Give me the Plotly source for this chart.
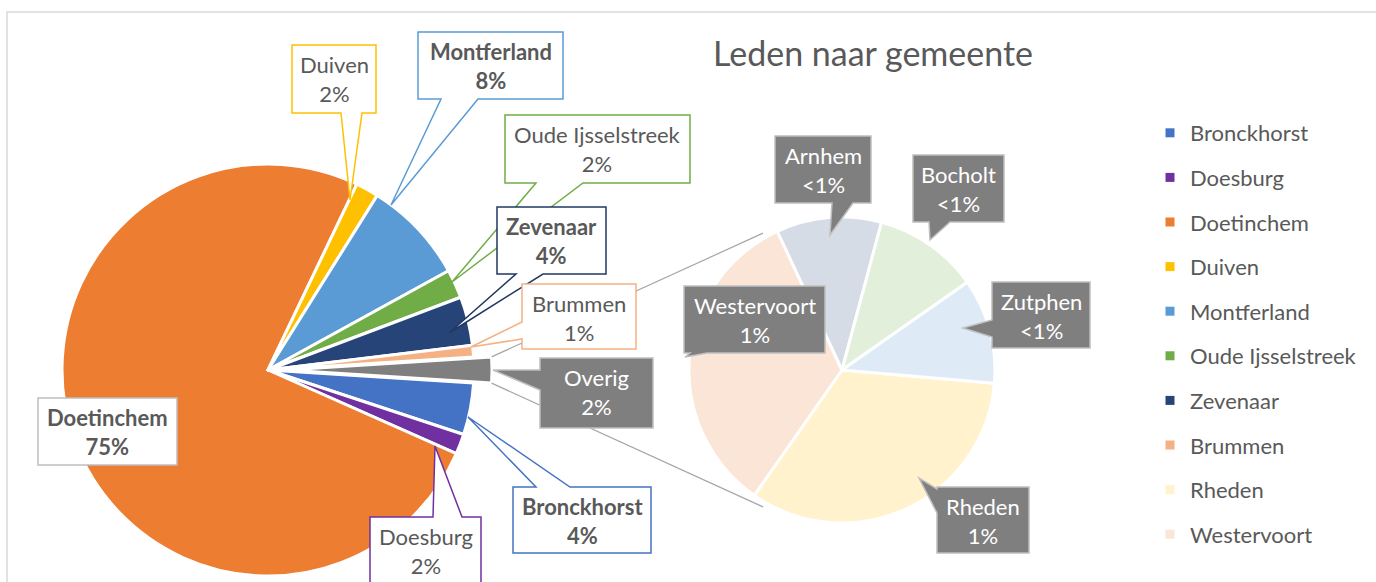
import math
import plotly.graph_objects as go

W, H = 1376, 582

# ---------------- data ----------------
main_labels = ["Bronckhorst", "Doesburg", "Doetinchem", "Duiven", "Montferland",
               "Oude Ijsselstreek", "Zevenaar", "Brummen", "Overig"]
main_values = [18, 7, 335, 8, 36, 10, 17, 4, 9]
main_colors = ["#4472C4", "#7030A0", "#ED7D31", "#FFC000", "#5B9BD5",
               "#70AD47", "#264478", "#F4B183", "#7F7F7F"]

sub_labels = ["Rheden", "Westervoort", "Arnhem", "Bocholt", "Zutphen"]
sub_values = [3, 3, 1, 1, 1]
sub_colors = ["#FFF2CC", "#FBE5D6", "#D6DCE5", "#E2EFDA", "#DEEBF7"]

title_text = "Leden naar gemeente"

total = sum(main_values)


def pct_text(v):
    p = v / total * 100
    return "<1%" if p < 0.5 else f"{round(p)}%"


# ---------------- layout geometry (pixels) ----------------
FONT = "Lato"
TXT = "#595959"
LBL_SIZE = 22
MAIN_C, MAIN_R, PULL = (268, 370), 206, 18
SUB_C, SUB_R = (842, 370), 153
SUB_ROT = 95


def dom(cx, cy, r):
    return dict(x=[(cx - r) / W, (cx + r) / W], y=[(H - cy - r) / H, (H - cy + r) / H])


TRANSP = "rgba(0,0,0,0)"
n = len(main_labels)
overig_i = n - 1
main_rot = 90 + 180 * main_values[overig_i] / total

fig = go.Figure()

# main pie (Overig slot left empty; drawn pulled out below)
fig.add_trace(go.Pie(
    labels=main_labels, values=main_values, sort=False, direction="clockwise",
    rotation=main_rot, domain=dom(*MAIN_C, MAIN_R), textinfo="none",
    hoverinfo="label+percent", showlegend=False,
    marker=dict(colors=[c if i != overig_i else TRANSP for i, c in enumerate(main_colors)],
                line=dict(color="white", width=[3 if i != overig_i else 0 for i in range(n)])),
))
# exploded "Overig" slice
fig.add_trace(go.Pie(
    labels=main_labels, values=main_values, sort=False, direction="clockwise",
    rotation=main_rot, domain=dom(MAIN_C[0] + PULL, MAIN_C[1], MAIN_R), textinfo="none",
    hoverinfo="skip", showlegend=False,
    marker=dict(colors=[c if i == overig_i else TRANSP for i, c in enumerate(main_colors)],
                line=dict(color="white", width=[3 if i == overig_i else 0 for i in range(n)])),
))
# secondary pie
fig.add_trace(go.Pie(
    labels=sub_labels, values=sub_values, sort=False, direction="clockwise",
    rotation=SUB_ROT, domain=dom(*SUB_C, SUB_R), textinfo="none",
    hoverinfo="label", showlegend=False,
    marker=dict(colors=sub_colors, line=dict(color="white", width=3)),
))

# legend entries (first 10 visible as in the original)
color_of = dict(zip(main_labels + sub_labels, main_colors + sub_colors))
legend_labels = [l for l in main_labels if l != "Overig"] + sub_labels
for lab in legend_labels[:10]:
    fig.add_trace(go.Scatter(x=[None], y=[None], mode="markers", name=lab,
                             legendgroup=lab,
                             marker=dict(symbol="square", size=9, color=color_of[lab])))

shapes = []
# chart border
shapes.append(dict(type="rect", xref="x", yref="y", x0=7, y0=12, x1=1390, y1=600,
                   line=dict(color="#D9D9D9", width=1.5), layer="below"))

# connector lines from exploded slice to secondary pie
h = math.pi * main_values[overig_i] / total
for s in (1, -1):
    x0 = MAIN_C[0] + PULL + MAIN_R * math.cos(h)
    y0 = MAIN_C[1] - s * MAIN_R * math.sin(h)
    a = math.radians(120)
    x1 = SUB_C[0] + (SUB_R + 5) * math.cos(a)
    y1 = SUB_C[1] - s * (SUB_R + 5) * math.sin(a)
    shapes.append(dict(type="line", xref="x", yref="y", x0=x0, y0=y0, x1=x1, y1=y1,
                       line=dict(color="#A6A6A6", width=1.2), layer="above"))

# callout layout: box (x0,y0,x1,y1), wedge side, wedge base, tip, style
callouts = {
    "Duiven": dict(box=(292, 45, 376, 113), side="bottom", base=(341, 362), tip=(350, 200)),
    "Montferland": dict(box=(418, 32, 563, 99), side="bottom", base=(441, 478), tip=(391, 205), bold=True),
    "Oude Ijsselstreek": dict(box=(505, 115, 690, 183), side="bottom", base=(536, 583), tip=(452, 282)),
    "Zevenaar": dict(box=(497, 207, 606, 274), side="bottom", base=(516, 543), tip=(449, 333),
                     border="#203864", bold=True),
    "Brummen": dict(box=(522, 284, 636, 349), side="left", base=(322, 339), tip=(471, 347)),
    "Overig": dict(box=(540, 358, 653, 428), side="left", base=(370, 390), tip=(493, 370), gray=True),
    "Bronckhorst": dict(box=(513, 487, 651, 553), side="top", base=(536, 570), tip=(468, 417), bold=True),
    "Doesburg": dict(box=(370, 517, 481, 610), side="top", base=(433, 462), tip=(435, 446)),
    "Doetinchem": dict(box=(38, 398, 177, 465), side=None, border="#BFBFBF", bold=True),
    "Arnhem": dict(box=(775, 136, 871, 203), side="bottom", base=(832, 853), tip=(830, 235), gray=True),
    "Bocholt": dict(box=(913, 155, 1004, 222), side="bottom", base=(929, 950), tip=(930, 240), gray=True),
    "Zutphen": dict(box=(992, 282, 1090, 348), side="left", base=(320, 337), tip=(963, 328), gray=True),
    "Westervoort": dict(box=(684, 286, 825, 353), side="bottom", base=(690, 707), tip=(685, 357), gray=True),
    "Rheden": dict(box=(937, 487, 1029, 553), side="left", base=(489, 513), tip=(919, 478), gray=True),
}


def callout_path(box, side, base, tip):
    x0, y0, x1, y1 = box
    pts = [(x0, y0)]
    if side == "top":
        pts += [(base[0], y0), tip, (base[1], y0)]
    pts.append((x1, y0))
    if side == "right":
        pts += [(x1, base[0]), tip, (x1, base[1])]
    pts.append((x1, y1))
    if side == "bottom":
        pts += [(base[1], y1), tip, (base[0], y1)]
    pts.append((x0, y1))
    if side == "left":
        pts += [(x0, base[1]), tip, (x0, base[0])]
    return "M " + " L ".join(f"{x:.1f},{y:.1f}" for x, y in pts) + " Z"


annotations = []
all_labels = main_labels + sub_labels
all_values = main_values + sub_values
for lab, val in zip(all_labels, all_values):
    c = callouts[lab]
    gray = c.get("gray", False)
    fill = "#7F7F7F" if gray else "white"
    border = "#BFBFBF" if gray else c.get("border", color_of[lab])
    shapes.append(dict(type="path", xref="x", yref="y",
                       path=callout_path(c["box"], c.get("side"), c.get("base"), c.get("tip")),
                       fillcolor=fill, line=dict(color=border, width=1.5), layer="above"))
    x0, y0, x1, y1 = c["box"]
    yc = y0 + 33.5
    txt = f"{lab}<br>{pct_text(val)}"
    if c.get("bold"):
        txt = f"<b>{lab}</b><br><b>{pct_text(val)}</b>"
    annotations.append(dict(x=(x0 + x1) / 2, y=yc, xref="x", yref="y", text=txt,
                            showarrow=False, xanchor="center", yanchor="middle",
                            font=dict(family=FONT, size=LBL_SIZE, color="white" if gray else TXT)))

fig.update_layout(
    width=W, height=H, margin=dict(l=0, r=0, t=0, b=0),
    paper_bgcolor="white", plot_bgcolor="white",
    title=dict(text=title_text, x=873 / W, y=1 - 54 / H, xanchor="center", yanchor="middle",
               font=dict(family=FONT, size=34, color=TXT)),
    xaxis=dict(range=[0, W], visible=False, fixedrange=True, domain=[0, 1]),
    yaxis=dict(range=[H, 0], visible=False, fixedrange=True, domain=[0, 1]),
    shapes=shapes, annotations=annotations,
    showlegend=True,
    legend=dict(x=1150 / W, y=1 - 112 / H, xanchor="left", yanchor="top",
                font=dict(family=FONT, size=LBL_SIZE, color=TXT), traceorder="grouped",
                tracegroupgap=13, bgcolor="rgba(0,0,0,0)", itemclick=False),
    font=dict(family=FONT, color=TXT),
)

fig.write_html("out.html", config={"displayModeBar": False},
               post_script="document.body.style.margin='0px';")
